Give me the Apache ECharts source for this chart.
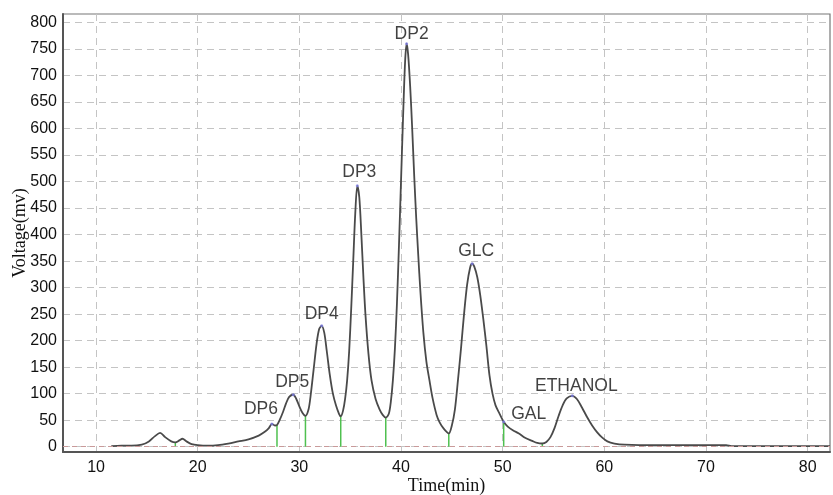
<!DOCTYPE html>
<html><head><meta charset="utf-8">
<script src="https://cdn.jsdelivr.net/npm/echarts@6/dist/echarts.min.js"></script>
<style>html,body{margin:0;padding:0;background:#fff}#c{width:833px;height:495px}</style>
</head><body><div id="c"></div>
<script>
// Chromatogram trace (time in min, voltage in mV)
const times = [11.5,12.5,13.5,14.5,15.2,15.8,16.3,16.8,17.4,17.8,18.2,18.5,18.9,19.4,20.0,21.0,22.0,23.0,24.0,25.0,26.0,26.6,27.0,27.3,27.6,27.8,28.1,28.4,28.7,29.0,29.4,29.7,30.0,30.3,30.6,30.9,31.1,31.4,31.7,31.95,32.2,32.45,32.7,33.0,33.3,33.6,33.9,34.07,34.3,34.5,34.7,34.9,35.1,35.3,35.5,35.7,35.9,36.1,36.3,36.5,36.8,37.1,37.5,37.9,38.2,38.5,38.8,39.0,39.2,39.4,39.6,39.8,40.0,40.2,40.4,40.55,40.7,40.9,41.1,41.3,41.5,41.7,41.9,42.2,42.5,42.8,43.1,43.5,43.8,44.2,44.7,45.0,45.3,45.6,45.9,46.2,46.5,46.8,47.0,47.2,47.5,47.8,48.1,48.4,48.7,49.0,49.3,49.7,50.1,50.5,51.0,51.6,52.2,52.9,53.4,53.9,54.3,54.7,55.1,55.5,55.9,56.3,56.85,57.3,57.8,58.3,58.8,59.3,59.8,60.3,61.0,62.0,65.0,69.0,72.0,72.5,76.0,82.2];
const volts = [1,2,2,4,10,20,26,18,10,8,12,15,10,5,3,2,3,6,10,14,21,28,35,43,40,41,52,66,82,94,98,90,76,64,58,70,95,145,195,222,228,215,180,135,100,78,62,57,68,90,125,180,260,350,440,492,470,400,320,250,175,125,90,70,60,55,62,85,125,185,270,380,500,620,725,760,740,680,600,510,430,360,295,215,160,125,92,60,46,34,25,40,70,125,185,250,305,338,345,340,320,285,240,190,135,100,78,62,47,38,31,25,17,11,7,6,9,18,35,58,78,91,96,90,74,56,40,27,17,10,6,4,3,3,3,1,1,1];

// Labelled peaks
const peakNames  = ['DP6','DP5','DP4','DP3','DP2','GLC','GAL','ETHANOL'];
const peakTimes  = [27.3, 29.4, 32.2, 35.7, 40.55, 47.0, 50.1, 56.85];
const peakValues = [43, 98, 228, 492, 760, 345, 47, 96];

// Green integration drop lines
const dropTimes  = [17.8, 27.8, 30.6, 34.07, 38.5, 44.7, 50.1, 53.9];
const dropValues = [8, 41, 58, 57, 55, 25, 47, 6];

// Axis ticks
const xTicks = [10,20,30,40,50,60,70,80];
const yTicks = [0,50,100,150,200,250,300,350,400,450,500,550,600,650,700,750,800];

const labelOffsets = {DP6:[-11,2],DP5:[-1,4],DP4:[0,5],DP3:[2,3],DP2:[5,7],GLC:[4,4],GAL:[25,9],ETHANOL:[4,7]};

const chart = echarts.init(document.getElementById('c'), null, {renderer:'canvas'});
const gridLine = {show:true, lineStyle:{color:'#c4c4c4', type:[7,5], width:1}};
chart.setOption({
  animation:false,
  backgroundColor:'#fff',
  grid:{left:63, right:3, top:14, bottom:43, show:true, borderColor:'#777', borderWidth:1.2,
        containLabel:false, outerBoundsMode:'none'},
  xAxis:{type:'value', min:6.75, max:82.2,
    name:'Time(min)', nameLocation:'middle', nameGap:25, nameMoveOverlap:false,
    nameTextStyle:{fontFamily:'Liberation Serif', fontSize:18, color:'#111'},
    axisLine:{show:true, onZero:false, lineStyle:{color:'#555', width:2}},
    axisTick:{show:false, customValues:xTicks},
    axisLabel:{customValues:xTicks, fontFamily:'Liberation Sans', fontSize:16, color:'#111', margin:8},
    splitLine:gridLine},
  yAxis:{type:'value', min:-10, max:816,
    name:'Voltage(mv)', nameLocation:'middle', nameGap:34, nameMoveOverlap:false,
    nameTextStyle:{fontFamily:'Liberation Serif', fontSize:18, color:'#111'},
    axisLine:{show:true, onZero:false, lineStyle:{color:'#555', width:2}},
    axisTick:{show:false, customValues:yTicks},
    axisLabel:{customValues:yTicks, fontFamily:'Liberation Sans', fontSize:16, color:'#111', margin:6},
    splitLine:gridLine},
  series:[
    {type:'line', data: times.map((t,i)=>[t, volts[i]]), showSymbol:false, smooth:0.3,
     lineStyle:{color:'#4a4a4a', width:1.8}, z:3,
     markLine:{silent:true, symbol:'none', label:{show:false},
       lineStyle:{color:'#c99a9a', type:[5,4], width:1}, data:[{yAxis:0}]}},
    {type:'custom', z:2, data: dropTimes.map((t,i)=>[t, dropValues[i]]),
     renderItem:function(params, api){
       const p0 = api.coord([api.value(0), 0]);
       const p1 = api.coord([api.value(0), api.value(1)]);
       return {type:'line', shape:{x1:p0[0], y1:p0[1], x2:p1[0], y2:p1[1]},
               style:{stroke:'#4fc04f', lineWidth:1.5}};
     }},
    {type:'scatter', z:4, symbol:'circle', symbolSize:3,
     itemStyle:{color:'#7a7ae0'},
     data: peakNames.map((n,i)=>({name:n, value:[peakTimes[i], peakValues[i]],
       label:{show:true, position:'top', distance:5, offset:labelOffsets[n], formatter:n,
              fontFamily:'Liberation Sans', fontSize:17.5, color:'#111', lineHeight:20}}))}
  ]
});
</script>
</body></html>
